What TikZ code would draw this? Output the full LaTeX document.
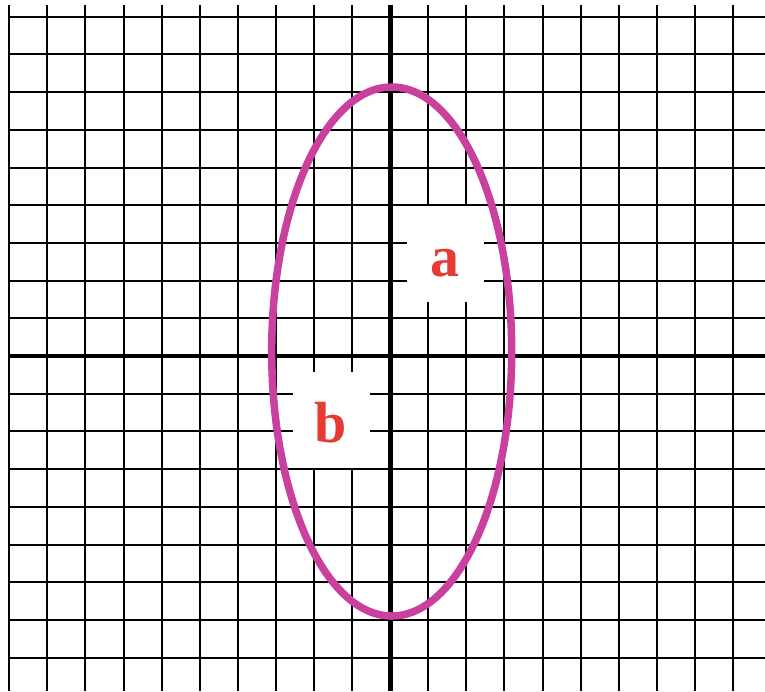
\documentclass[tikz,border=0pt]{standalone}
\usepackage{fontspec}
\setmainfont{Liberation Serif}
\usetikzlibrary{positioning}
\definecolor{OrchidPink}{RGB}{201,64,158}
\definecolor{LabelRed}{RGB}{232,58,52}
\tikzset{
  gridline/.style={black,line width=2pt},
  axisline/.style={black,line width=4.8pt},
  orbit/.style={draw=OrchidPink,line width=7.5pt},
  patch/.style={fill=white,inner sep=0pt,minimum width=77pt,minimum height=96pt,
    text height=44pt,text depth=0pt,text=LabelRed,
    font=\fontsize{58}{60}\selectfont\bfseries}
}

\begin{document}
\begin{tikzpicture}[x=1pt,y=-1pt]
      \useasboundingbox (0,0) rectangle (765,691);
      % grid
      \foreach \i in {0,...,19}
        \draw[gridline] ({9.3+38.09*\i},5) -- ({9.3+38.09*\i},691);
      \foreach \j in {0,...,17}
        \draw[gridline] (9,{16.7+37.7*\j}) -- (765,{16.7+37.7*\j});
      % axes
      \draw[axisline] (390.2,5) -- (390.2,691);
      \draw[axisline] (9,356) -- (765,356);
      % labels on white patches
      \node[patch] (labela) at (445,254) {a};
      \node[patch] (labelb) at (331,420) {b};
      % ellipse
      \draw[orbit] (391.7,351.5) ellipse [x radius=120,y radius=264.5];
    \end{tikzpicture}
\end{document}
